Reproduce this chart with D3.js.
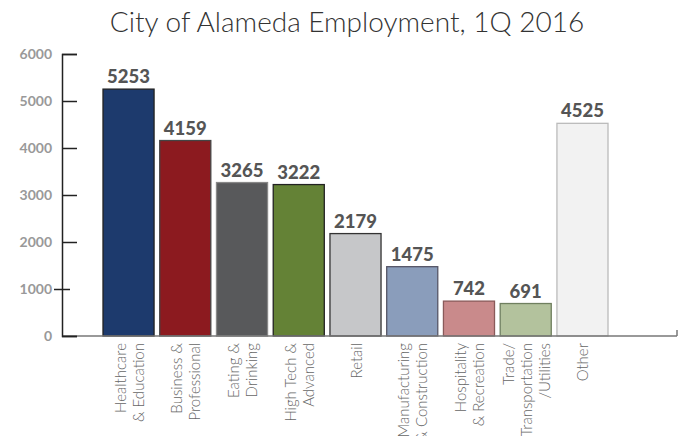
<!DOCTYPE html>
<html>
<head>
<meta charset="utf-8">
<script src="https://cdn.jsdelivr.net/npm/d3@7"></script>
<style>
  html, body { margin: 0; padding: 0; background: #fff; }
  svg { display: block; }
</style>
</head>
<body>
<svg id="chart" width="687" height="436"></svg>
<script>
const categories = [
  ["Healthcare", "& Education"],
  ["Business &", "Professional"],
  ["Eating &", "Drinking"],
  ["High Tech &", "Advanced"],
  ["Retail"],
  ["Manufacturing", "& Construction"],
  ["Hospitality", "& Recreation"],
  ["Trade/", "Transportation", "/Utilities"],
  ["Other"]
];
const values = [5253, 4159, 3265, 3222, 2179, 1475, 742, 691, 4525];
const fills = ["#1d3a6d", "#8c1a1f", "#58595b", "#648236", "#c6c7c9", "#8a9dbb", "#c98a8b", "#b3c29d", "#f2f2f2"];
const strokes = ["#222", "#444", "#888", "#222", "#333", "#556", "#8a5a5a", "#6f7f5f", "#bbb"];
const yTicks = [0, 1000, 2000, 3000, 4000, 5000, 6000];
const title = "City of Alameda Employment, 1Q 2016";

const svg = d3.select("#chart");
const x = d3.scaleBand().domain(d3.range(values.length)).range([103, 608]).paddingInner(0.1).paddingOuter(0);
const y = d3.scaleLinear().domain([0, 6000]).range([336, 54]);

// title
svg.append("text")
  .attr("x", 347).attr("y", 32)
  .attr("text-anchor", "middle")
  .attr("font-family", "Lato, sans-serif")
  .attr("font-weight", 300)
  .attr("font-size", 28)
  .attr("fill", "#333")
  .text(title);

// bars
svg.selectAll("rect.bar").data(values).join("rect")
  .attr("class", "bar")
  .attr("x", (d, i) => x(i))
  .attr("y", d => y(d))
  .attr("width", x.bandwidth())
  .attr("height", d => y(0) - y(d))
  .attr("fill", (d, i) => fills[i])
  .attr("stroke", (d, i) => strokes[i])
  .attr("stroke-width", 1.3);

// value labels
svg.selectAll("text.val").data(values).join("text")
  .attr("class", "val")
  .attr("x", (d, i) => x(i) + x.bandwidth() / 2)
  .attr("y", d => y(d) - 6)
  .attr("text-anchor", "middle")
  .attr("font-family", "Lato, sans-serif")
  .attr("font-weight", 900)
  .attr("font-size", 18.5)
  .attr("fill", "#555")
  .text(d => d);

// baseline
svg.append("line")
  .attr("x1", 62).attr("x2", 677)
  .attr("y1", y(0)).attr("y2", y(0))
  .attr("stroke", "#777").attr("stroke-width", 1.5);
svg.append("line")
  .attr("x1", 677).attr("x2", 677)
  .attr("y1", y(0) - 6).attr("y2", y(0))
  .attr("stroke", "#777").attr("stroke-width", 1.5);

// y axis
const yAxis = d3.axisRight(y).tickValues(yTicks).tickSize(15).tickFormat("");
const ga = svg.append("g").attr("transform", "translate(62,0)").call(yAxis);
ga.select(".domain").attr("stroke", "#222").attr("stroke-width", 1.5);
ga.selectAll(".tick line").attr("stroke", "#222").attr("stroke-width", 1.5)
  .attr("x1", d => d === 1000 ? -8 : 0)
  .attr("x2", d => d === 1000 ? 8 : 15);

svg.selectAll("text.ytick").data(yTicks).join("text")
  .attr("class", "ytick")
  .attr("x", 52)
  .attr("y", d => y(d))
  .attr("dy", "0.35em")
  .attr("text-anchor", "end")
  .attr("font-family", "Lato, sans-serif")
  .attr("font-weight", 700)
  .attr("font-size", 14)
  .attr("fill", "#999")
  .text(d => d);

// category labels
const lineH = 18;
categories.forEach((lines, i) => {
  const cx = x(i) + x.bandwidth() / 2;
  const n = lines.length;
  lines.forEach((t, j) => {
    svg.append("text")
      .attr("transform", `translate(${cx + (j - (n - 1) / 2) * lineH},343) rotate(-90)`)
      .attr("text-anchor", "end")
      .attr("dominant-baseline", "central")
      .attr("font-family", "Lato, sans-serif")
      .attr("font-weight", 300)
      .attr("font-size", 15)
      .attr("fill", "#666")
      .text(t);
  });
});
</script>
</body>
</html>
